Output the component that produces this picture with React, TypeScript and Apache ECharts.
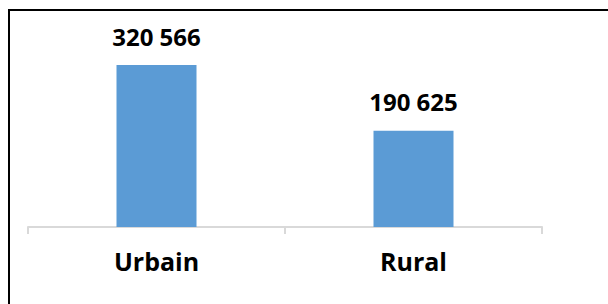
import React, { useEffect, useRef } from "react";
import * as echarts from "echarts";

const categories = ["Urbain", "Rural"];
const values = [320566, 190625];

const fmt = (v: number) => {
  const s = String(Math.round(v));
  return s.replace(/\B(?=(\d{3})+(?!\d))/g, " ");
};

export default function App() {
  const ref = useRef<HTMLDivElement>(null);
  useEffect(() => {
    if (!ref.current) return;
    const chart = echarts.init(ref.current, null, { renderer: "svg" });
    chart.setOption({
      animation: false,
      backgroundColor: "#ffffff",
      grid: { left: 28, right: 66, top: 25, bottom: 77 },
      xAxis: {
        type: "category",
        data: categories,
        boundaryGap: true,
        axisLine: { show: true, lineStyle: { color: "#d9d9d9", width: 2 } },
        axisTick: { show: true, length: 7, lineStyle: { color: "#d9d9d9", width: 2 } },
        axisLabel: {
          margin: 21,
          color: "#000000",
          fontFamily: "Open Sans",
          fontWeight: "bold",
          fontSize: 25,
        },
      },
      yAxis: {
        type: "value",
        min: 0,
        max: 400000,
        show: false,
        splitLine: { show: false },
      },
      series: [
        {
          type: "bar",
          data: values,
          barWidth: 80,
          itemStyle: { color: "#5b9bd5" },
          label: {
            show: true,
            position: "top",
            distance: 17,
            color: "#000000",
            fontFamily: "Open Sans",
            fontWeight: "bold",
            fontSize: 24,
            formatter: (p: any) => fmt(p.value),
          },
        },
      ],
      graphic: [
        {
          type: "rect",
          shape: { x: 9, y: 10, width: 700, height: 400 },
          style: { fill: "none", stroke: "#000000", lineWidth: 2 },
          silent: true,
        },
      ],
    });
    return () => chart.dispose();
  }, []);
  return (
    <div
      ref={ref}
      style={{ position: "fixed", left: 0, top: 0, width: 608, height: 304 }}
    />
  );
}
